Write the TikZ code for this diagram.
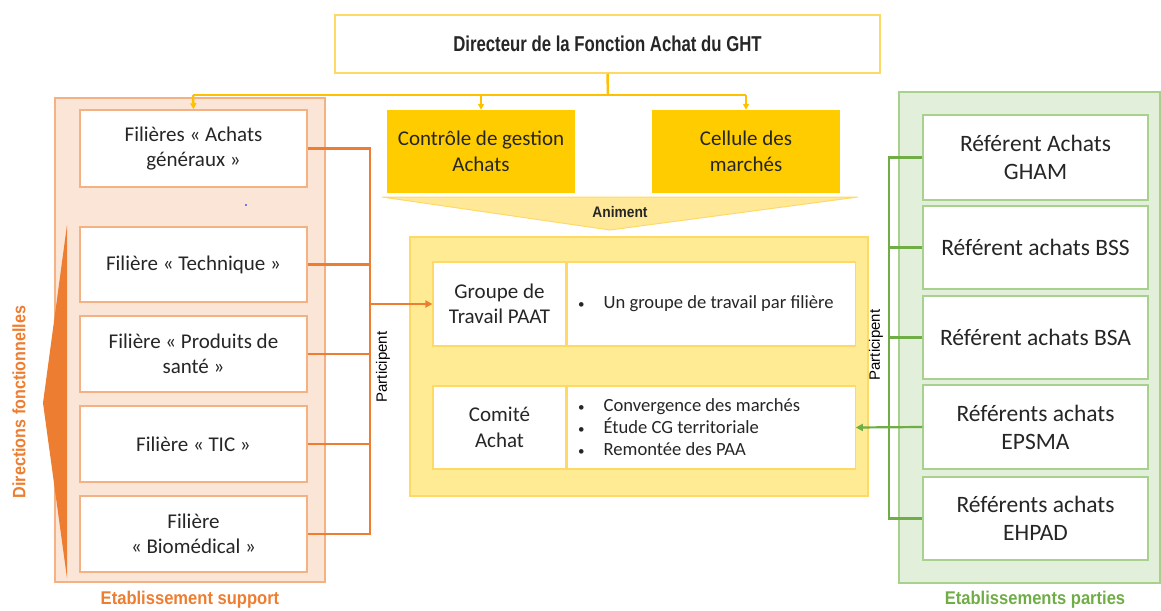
\documentclass[tikz,border=0pt]{standalone}
\usepackage{fontspec}
\setmainfont{Carlito}
\newfontfamily\condfont[FakeStretch=0.9]{Liberation Sans}
\newfontfamily\narrowfont[FakeStretch=0.78]{Liberation Sans}
\newfontfamily\plainsans{Liberation Sans}
\usetikzlibrary{arrows.meta}

\definecolor{orLine}{HTML}{ED7D31}
\definecolor{orBorder}{HTML}{F4B183}
\definecolor{orFill}{HTML}{FBE5D6}
\definecolor{yeLine}{HTML}{FFC000}
\definecolor{yeBorder}{HTML}{FFD966}
\definecolor{yeStrong}{HTML}{FFCC00}
\definecolor{yePanel}{HTML}{FFEB94}
\definecolor{yeChevron}{HTML}{FFE999}
\definecolor{grLine}{HTML}{70AD47}
\definecolor{grBorder}{HTML}{A9D18E}
\definecolor{grFill}{HTML}{E2EFDA}
\definecolor{txt}{HTML}{262626}

% small list bullet
\newcommand{\dotitem}{{\fontsize{13}{13}\selectfont\raisebox{0.5pt}{•}}\hspace{19pt}}

\tikzset{
  lbl/.style={font=\fontsize{21}{25.5}\selectfont, text=txt, align=center},
  biglbl/.style={font=\fontsize{23.5}{28}\selectfont, text=txt, align=center},
  small/.style={font=\fontsize{18.6}{22}\selectfont, text=txt, align=left},
  cond/.style={font=\condfont\bfseries\fontsize{18.4}{20}\selectfont},
  partlbl/.style={font=\plainsans\fontsize{15}{17}\selectfont, text=black, rotate=90},
  filbox/.style={lbl, draw=orBorder, line width=1.5pt, fill=white, minimum width=227pt, inner sep=2pt},
  refbox/.style={biglbl, draw=grBorder, line width=1.5pt, fill=white, minimum width=225pt, inner sep=2pt},
  goldbox/.style={lbl, fill=yeStrong, minimum width=188pt, minimum height=83pt, inner sep=2pt},
  cellbox/.style={draw=yeBorder, line width=1.2pt, fill=white, inner sep=2pt},
  oline/.style={draw=orLine, line width=2.2pt},
  yline/.style={draw=yeLine, line width=2.5pt},
  gline/.style={draw=grLine, line width=2.2pt},
  tipo/.style={-{Triangle[length=7pt,width=7pt]}},
  tipy/.style={-{Triangle[length=6pt,width=6pt]}},
}

\begin{document}
\begin{tikzpicture}[x=1pt,y=-1pt]
\useasboundingbox (0,0) rectangle (1161,610);

% ---------- background panels ----------
\draw[fill=orFill, draw=orBorder, line width=2pt] (55,98) rectangle (325,582);
\draw[fill=grFill, draw=grBorder, line width=2pt] (899,92) rectangle (1160,583);
\draw[fill=yePanel, draw=yeBorder, line width=1.5pt] (410,237) rectangle (868,496);

% wedge for the functional directions
\fill[orLine] (67,225) -- (43,403) -- (67,578) -- cycle;
\node[cond, text=orLine, rotate=90, font=\condfont\bfseries\fontsize{17.9}{20}\selectfont] (dirf) at (19,402) {Directions fonctionnelles};

% ---------- top of the hierarchy ----------
\node[draw=yeBorder, line width=1.5pt, fill=white, minimum width=545pt, minimum height=58pt, text=txt,
      font=\narrowfont\bfseries\fontsize{21.5}{24}\selectfont] (dir) at (607.5,44) {Directeur de la Fonction Achat du GHT};

\node[goldbox] (ctrl) at (481,151.5) {Contrôle de gestion\\Achats};
\node[goldbox] (cell) at (746,151.5) {Cellule des\\marchés};

% chevron "Animent"
\draw[fill=yeChevron, draw=yeBorder, line width=1pt] (382,197) -- (858,197) -- (610,230) -- cycle;
\node[text=txt, font=\condfont\bfseries\fontsize{15.3}{17}\selectfont] (anim) at (620,212) {Animent};

% ---------- support establishment ----------
\node[filbox, minimum height=77pt] (f1) at (193.5,148.5) {Filières « Achats\\généraux »};
\node[filbox, minimum height=75pt] (f2) at (193.5,264.5) {Filière « Technique »};
\node[filbox, minimum height=76pt] (f3) at (193.5,354) {Filière « Produits de\\santé »};
\node[filbox, minimum height=76pt] (f4) at (193.5,444) {Filière « TIC »};
\node[filbox, minimum height=76pt] (f5) at (193.5,534) {Filière\\« Biomédical »};
\fill[blue] (246,205) circle (0.9);
\node[cond, text=orLine] (sup) at (190,600) {Etablissement support};

% ---------- working groups ----------
\node[cellbox, minimum width=133pt, minimum height=84pt, lbl] (gt) at (499.5,304) {Groupe de\\Travail PAAT};
\node[cellbox, minimum width=288pt, minimum height=84pt, anchor=west] (gtd) at (gt.east) {};
\node[small, anchor=west] (gtt) at ([xshift=8pt]gtd.west) {\dotitem Un groupe de travail par filière};

\node[cellbox, minimum width=133pt, minimum height=83pt, lbl] (ca) at (499.5,427.5) {Comité\\Achat};
\node[cellbox, minimum width=288pt, minimum height=83pt, anchor=west] (cad) at (ca.east) {};
\node[small, anchor=west] (cat) at ([xshift=8pt]cad.west)
  {\dotitem Convergence des marchés\\\dotitem Étude CG territoriale\\\dotitem Remontée des PAA};

% ---------- member establishments ----------
\node[refbox, minimum height=85pt] (r1) at (1035.5,157.5) {Référent Achats\\GHAM};
\node[refbox, minimum height=83pt] (r2) at (1035.5,247.5) {Référent achats BSS};
\node[refbox, minimum height=83pt] (r3) at (1035.5,337.5) {Référent achats BSA};
\node[refbox, minimum height=84pt] (r4) at (1035.5,427) {Référents achats\\EPSMA};
\node[refbox, minimum height=83pt] (r5) at (1035.5,518.5) {Référents achats\\EHPAD};
\node[cond, text=grLine] (par) at (1035,600) {Etablissements parties};

% ---------- hierarchy links ----------
\coordinate (jn) at (608,95);
\draw[yline] (dir.south) -- (jn);
\draw[yline] (193,95) -- (746,95);
\draw[yline, tipy] (193,95) -- (f1.north);
\draw[yline, tipy] (481,95) -- (ctrl.north);
\draw[yline, tipy] (746,95) -- (cell.north);

% ---------- participation (support side) ----------
\coordinate (ob) at (370,304);
\draw[oline] (f1.east) -- (370,148.5) -- (370,534) -- (f5.east);
\draw[oline] (f2.east) -- (370,264.5);
\draw[oline] (f3.east) -- (370,354);
\draw[oline] (f4.east) -- (370,444);
\draw[oline, tipo] (ob) -- (gt.west);
\node[partlbl] (pl) at (383,367) {Participent};

% ---------- participation (member side) ----------
\draw[gline] (r1.west) -- (889,157.5) -- (889,518.5) -- (r5.west);
\draw[gline] (r2.west) -- (889,247.5);
\draw[gline] (r3.west) -- (889,337.5);
\draw[gline, tipo] (r4.west) -- (cad.east);
\node[partlbl] (pr) at (876,345) {Participent};
\end{tikzpicture}
\end{document}
